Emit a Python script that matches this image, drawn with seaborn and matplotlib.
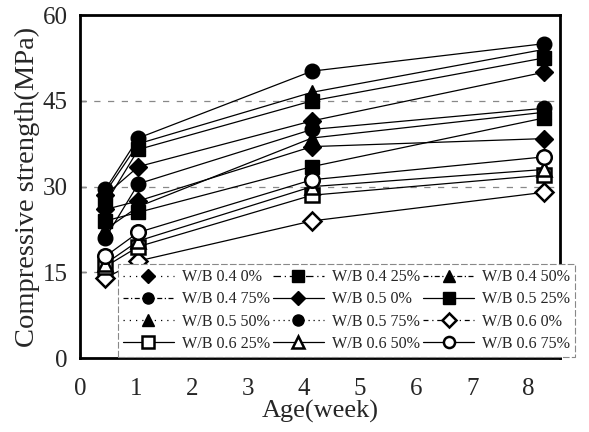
import matplotlib
matplotlib.use("Agg")
import matplotlib.pyplot as plt
import seaborn as sns
import pandas as pd
from matplotlib.lines import Line2D

# Age (weeks)
ages = [0.45, 1.04, 4.14, 8.28]

series_names = [
    "W/B 0.4 0%", "W/B 0.4 25%", "W/B 0.4 50%",
    "W/B 0.4 75%", "W/B 0.5 0%", "W/B 0.5 25%",
    "W/B 0.5 50%", "W/B 0.5 75%", "W/B 0.6 0%",
    "W/B 0.6 25%", "W/B 0.6 50%", "W/B 0.6 75%",
]

wb04_0 = [28.5, 33.5, 41.5, 50.0]
wb04_25 = [27.0, 36.5, 45.0, 52.5]
wb04_50 = [29.0, 37.5, 46.5, 54.0]
wb04_75 = [29.5, 38.5, 50.2, 55.0]
wb05_0 = [26.0, 27.5, 37.0, 38.4]
wb05_25 = [24.0, 25.5, 33.5, 42.0]
wb05_50 = [22.5, 26.5, 38.5, 43.0]
wb05_75 = [21.0, 30.5, 40.0, 43.7]
wb06_0 = [14.0, 17.0, 24.0, 29.0]
wb06_25 = [16.0, 19.5, 28.5, 32.0]
wb06_50 = [16.5, 20.5, 30.0, 33.0]
wb06_75 = [17.8, 22.0, 31.2, 35.2]

values = [wb04_0, wb04_25, wb04_50, wb04_75, wb05_0, wb05_25,
          wb05_50, wb05_75, wb06_0, wb06_25, wb06_50, wb06_75]

markers = ["D", "s", "^", "o", "D", "s", "^", "o", "D", "s", "^", "o"]
filled = [True] * 8 + [False] * 4
legend_styles = [(0, (1, 4)), (0, (6, 3, 1, 3)), (0, (4, 2, 1, 2)),
                 (0, (4, 2, 1, 2)), "-", "-",
                 (0, (1, 4)), (0, (1, 3)), (0, (4, 3, 1, 3)),
                 "-", "-", "-"]

sns.set_style("ticks")
plt.rcParams["font.family"] = ["Liberation Serif", "DejaVu Serif"]

fig = plt.figure(figsize=(5.89, 4.32), dpi=100)
ax = fig.add_axes([0.136, 0.171, 0.815, 0.794])

for name, vals, mk, fl in zip(series_names, values, markers, filled):
    df = pd.DataFrame({"age": ages, "strength": vals})
    ms = 9 if mk == "D" else 10.5
    sns.lineplot(data=df, x="age", y="strength", ax=ax, color="black",
                 linewidth=0.9, marker=mk, markersize=ms,
                 markerfacecolor="black" if fl else "white",
                 markeredgecolor="black", markeredgewidth=1.8 if not fl else 1.0,
                 legend=False, zorder=3)

ax.set_xlim(0, 8.57)
ax.set_ylim(0, 60)
ax.set_xticks(range(0, 9))
ax.set_yticks([0, 15, 30, 45, 60])
for yv in [15, 30, 45]:
    ax.axhline(yv, color="#888888", linestyle=(0, (5, 6)), linewidth=0.9, zorder=1)

for s in ax.spines.values():
    s.set_linewidth(2.0)
    s.set_color("black")
ax.tick_params(direction="in", length=4, width=1, labelsize=18)
ax.tick_params(axis="y", pad=9)
ax.tick_params(axis="x", pad=14)

ax.set_xlabel("Age(week)", fontsize=19, labelpad=0)
ax.set_ylabel("Compressive strength(MPa)", fontsize=20.5, labelpad=2)

handles = []
for name, mk, fl, ls in zip(series_names, markers, filled, legend_styles):
    ms = 7 if mk == "D" else 8
    handles.append(Line2D([], [], color="black", linestyle=ls, linewidth=0.9,
                          marker=mk, markersize=ms,
                          markerfacecolor="black" if fl else "white",
                          markeredgecolor="black",
                          markeredgewidth=1.8 if not fl else 1.0))

# row-major order in a 3-column legend
order = [0, 3, 6, 9, 1, 4, 7, 10, 2, 5, 8, 11]
leg = ax.legend([handles[i] for i in order], [series_names[i] for i in order],
                ncol=3, loc="lower left",
                bbox_to_anchor=(0.075, 0.0), fontsize=11.6, handlelength=3.2,
                columnspacing=0.15, handletextpad=0.5, labelspacing=0.38,
                borderpad=0.3, borderaxespad=0.1, fancybox=False, framealpha=1,
                edgecolor="#888888")
leg.get_frame().set_linewidth(0.8)
leg.get_frame().set_linestyle((0, (6, 2)))

fig.savefig("out.png", dpi=100)
